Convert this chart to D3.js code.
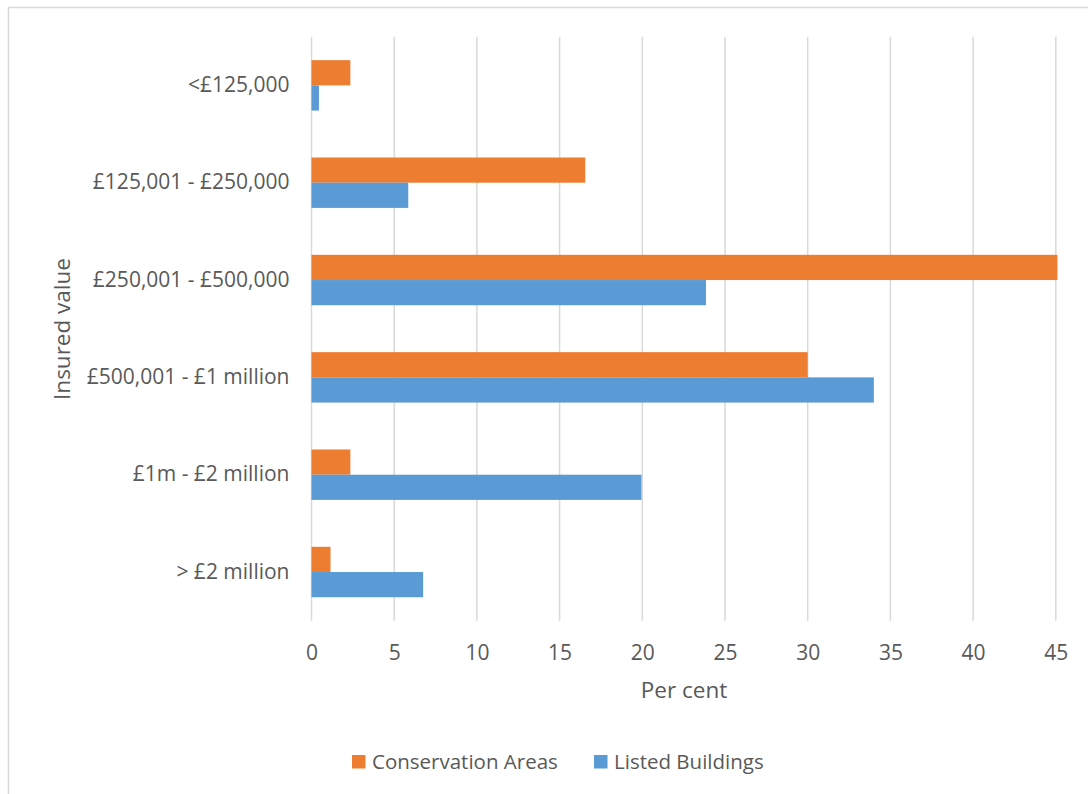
<!DOCTYPE html>
<html><head><meta charset="utf-8">
<script src="https://cdn.jsdelivr.net/npm/d3@7"></script>
<style>
html,body{margin:0;padding:0;background:#fff;}
svg{display:block;font-family:"Open Sans",sans-serif;}
</style></head><body>
<svg id="c" width="1088" height="794"></svg>
<script>
const categories = ["<£125,000","£125,001 - £250,000","£250,001 - £500,000","£500,001 - £1 million","£1m - £2 million","> £2 million"];
const conservationAreas = [2.35, 16.55, 45.1, 30.0, 2.35, 1.15];
const listedBuildings = [0.45, 5.85, 23.85, 34.0, 19.95, 6.75];
const seriesNames = ["Conservation Areas","Listed Buildings"];
const seriesColors = ["#ED7D31","#5B9BD5"];
const xTicks = [0,5,10,15,20,25,30,35,40,45];

(function(){
const svg = d3.select("#c");
svg.append("rect").attr("x",8.5).attr("y",7.5).attr("width",1100).attr("height",800)
  .attr("fill","#fff").attr("stroke","#d9d9d9").attr("stroke-width",1.5);

const pL=311.5, pR=1055.8, pT=36.7, pB=620.7;
const x = d3.scaleLinear().domain([0,45]).range([pL,pR]);
const y = d3.scaleBand().domain(categories).range([pT,pB]).paddingInner(0.482).paddingOuter(0.241);
const ys = d3.scaleBand().domain(seriesNames).range([0,y.bandwidth()]);

svg.append("g").selectAll("line").data(xTicks).join("line")
  .attr("x1",d=>x(d)).attr("x2",d=>x(d)).attr("y1",pT).attr("y2",pB)
  .attr("stroke","#d9d9d9").attr("stroke-width",1.5);

const data = categories.map((c,i)=>({cat:c, vals:[conservationAreas[i], listedBuildings[i]]}));
const g = svg.append("g").selectAll("g").data(data).join("g")
  .attr("transform",d=>`translate(0,${y(d.cat)})`);
g.selectAll("rect").data(d=>d.vals.map((v,j)=>({v,s:seriesNames[j],c:seriesColors[j]}))).join("rect")
  .attr("x",x(0)).attr("y",d=>ys(d.s)).attr("height",ys.bandwidth())
  .attr("width",d=>x(d.v)-x(0)).attr("fill",d=>d.c);

const xa = svg.append("g").attr("transform",`translate(0,${pB})`)
  .call(d3.axisBottom(x).tickValues(xTicks).tickSize(0).tickPadding(24));
xa.select(".domain").remove();
xa.selectAll("text").attr("font-size",21).attr("fill","#595959").attr("font-family","Open Sans");

const ya = svg.append("g").attr("transform",`translate(${pL},0)`)
  .call(d3.axisLeft(y).tickSize(0).tickPadding(22));
ya.select(".domain").remove();
ya.selectAll("text").attr("font-size",21).attr("fill","#595959").attr("font-family","Open Sans");

svg.append("text").attr("x",684).attr("y",698).attr("text-anchor","middle")
  .attr("font-size",22.5).attr("fill","#595959").text("Per cent");
svg.append("text").attr("transform","translate(70,329) rotate(-90)").attr("text-anchor","middle")
  .attr("font-size",22.5).attr("fill","#595959").text("Insured value");

const legX=[352,594];
const lg = svg.append("g").selectAll("g").data(seriesNames).join("g")
  .attr("transform",(d,i)=>`translate(${legX[i]},755)`);
lg.append("rect").attr("width",13.5).attr("height",13.5).attr("fill",(d,i)=>seriesColors[i]);
lg.append("text").attr("x",20).attr("y",14).attr("font-size",20.5).attr("fill","#595959").text(d=>d);
})();
</script>
</body></html>
